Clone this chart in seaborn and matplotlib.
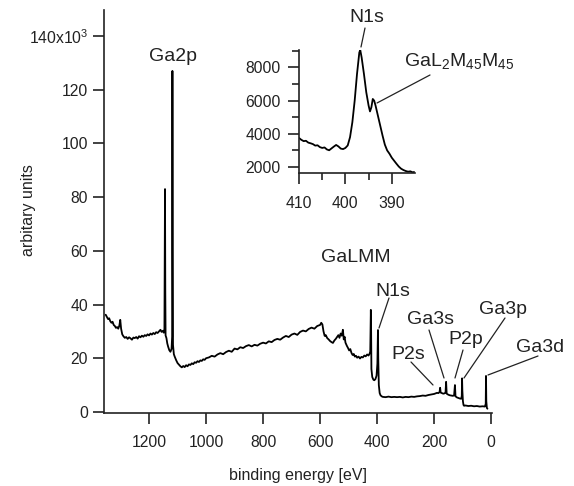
import matplotlib
matplotlib.use("Agg")
import matplotlib.pyplot as plt
from matplotlib.lines import Line2D
import seaborn as sns

# ---------------- data ----------------
# survey spectrum: binding energy [eV] and intensity [10^3 counts]
energy_ev = [
    1352, 1348, 1344, 1340, 1336, 1332, 1328, 1324, 1320, 1316, 1312, 1308, 1304, 1301, 1298, 1294,
    1290, 1285, 1280, 1275, 1270, 1265, 1260, 1255, 1250, 1245, 1240, 1235, 1230, 1225, 1220, 1215,
    1210, 1205, 1200, 1195, 1190, 1185, 1180, 1175, 1170, 1165, 1160, 1156, 1152, 1148, 1146, 1145,
    1144, 1143, 1142, 1139, 1136, 1133, 1129, 1125, 1121, 1119, 1118, 1117, 1116, 1113, 1110, 1105,
    1100, 1095, 1090, 1085, 1080, 1075, 1070, 1065, 1060, 1055, 1050, 1045, 1040, 1035, 1030, 1025,
    1020, 1015, 1010, 1005, 1000, 990, 980, 970, 960, 950, 940, 930, 920, 910, 900, 890,
    880, 870, 860, 850, 840, 830, 820, 810, 800, 790, 780, 770, 760, 750, 740, 730,
    720, 710, 700, 690, 680, 670, 660, 650, 640, 630, 620, 610, 600, 596, 592, 588,
    584, 580, 575, 570, 565, 560, 555, 550, 545, 540, 536, 532, 528, 524, 520, 517,
    514, 511, 506, 502, 498, 494, 490, 486, 482, 478, 474, 470, 465, 460, 455, 450,
    445, 440, 435, 430, 426, 424, 422, 421, 420, 417, 413, 410, 406, 402, 399, 397,
    396, 394, 391, 388, 384, 380, 370, 360, 350, 340, 330, 320, 310, 300, 290, 280,
    270, 260, 250, 240, 230, 220, 210, 200, 195, 190, 185, 181, 179, 177, 172, 168,
    164, 160, 158, 156, 150, 145, 140, 135, 130, 127, 125, 120, 115, 110, 105, 103,
    102, 101, 99, 97, 95, 90, 80, 70, 60, 50, 40, 30, 22, 19, 18, 17,
    15, 13,
]
intensity_k = [
    36.2, 35.4, 34.6, 34.9, 33.8, 33.2, 33.6, 32.4, 32.0, 31.3, 31.6, 31.0, 32.2, 34.3, 31.0, 28.9,
    28.2, 27.6, 27.9, 27.2, 27.8, 27.4, 26.9, 27.7, 27.5, 27.9, 27.3, 28.2, 27.8, 28.4, 28.0, 28.6,
    28.3, 28.9, 28.5, 29.2, 28.8, 29.4, 29.0, 29.7, 29.4, 30.0, 30.6, 29.8, 30.2, 29.5, 31.0, 60.0,
    83.0, 45.0, 28.5, 27.5, 25.5, 24.3, 23.0, 22.4, 23.5, 28.0, 127.0, 60.0, 25.0, 21.5, 20.6, 19.3,
    18.2, 17.6, 17.0, 16.6, 17.1, 16.7, 17.4, 17.0, 17.7, 17.5, 18.1, 17.8, 18.5, 18.3, 18.9, 18.6,
    19.2, 19.0, 19.6, 19.4, 20.0, 20.3, 20.9, 20.6, 21.4, 21.9, 21.5, 22.3, 22.8, 22.4, 23.6, 23.3,
    24.1, 23.8, 24.5, 24.9, 24.4, 25.0, 24.7, 25.4, 25.8, 25.5, 26.3, 26.0, 26.8, 27.2, 26.9, 27.7,
    28.3, 27.9, 28.8, 29.2, 28.7, 29.8, 30.3, 30.0, 30.9, 31.4, 31.0, 32.0, 32.4, 33.2, 32.6, 30.0,
    28.3, 28.6, 27.5, 27.0, 26.4, 26.0, 25.7, 26.6, 27.2, 28.0, 28.6, 27.6, 29.2, 28.4, 30.6, 27.0,
    28.0, 25.8, 24.6, 23.8, 22.9, 23.4, 22.0, 21.2, 21.6, 20.6, 20.9, 20.2, 20.6, 19.9, 20.5, 20.3,
    21.0, 20.7, 21.4, 21.0, 21.8, 22.5, 38.0, 30.0, 16.0, 13.0, 12.0, 11.8, 12.2, 13.5, 18.0, 30.5,
    20.0, 10.0, 7.0, 6.2, 5.8, 5.6, 5.5, 5.7, 5.5, 5.6, 5.5, 5.6, 5.4, 5.6, 5.5, 5.7,
    5.6, 5.8, 5.9, 6.1, 6.0, 6.3, 6.5, 6.7, 6.9, 7.1, 7.0, 7.4, 9.0, 7.2, 7.0, 6.8,
    6.9, 7.2, 11.2, 6.8, 6.4, 6.2, 6.1, 6.0, 6.1, 10.0, 5.8, 5.4, 5.2, 5.0, 4.9, 6.0,
    12.5, 8.0, 4.0, 2.6, 2.3, 2.4, 2.2, 2.3, 2.1, 2.2, 2.0, 2.1, 2.0, 3.0, 13.4, 4.0,
    1.5, 1.2,
]

# inset: high-resolution N1s region, binding energy [eV] and counts
inset_energy_ev = [
    410.0, 409.5, 409.0, 408.5, 408.0, 407.5, 407.0, 406.5, 406.0, 405.5, 405.0, 404.5, 404.0,
    403.5, 403.0, 402.5, 402.0, 401.5, 401.0, 400.5, 400.0, 399.5, 399.0, 398.5, 398.0, 397.5,
    397.0, 396.8, 396.5, 396.0, 395.5, 395.0, 394.7, 394.4, 394.1, 393.8, 393.5, 393.0, 392.5,
    392.0, 391.5, 391.0, 390.5, 390.0, 389.5, 389.0, 388.5, 388.0, 387.5, 387.0, 386.5, 386.0,
    385.5, 385.2,
]
inset_counts = [
    3750, 3640, 3560, 3580, 3470, 3430, 3380, 3290, 3310, 3200, 3150, 3180, 3060,
    3010, 3120, 3230, 3330, 3240, 3110, 3080, 3150, 3300, 3800, 4700, 6000, 7600,
    8900, 9050, 8600, 7600, 6500, 5700, 5350, 5600, 6100, 6000, 5700, 5100, 4500,
    3900, 3350, 3000, 2800, 2560, 2380, 2200, 2030, 1900, 1820, 1760, 1720, 1740,
    1680, 1700,
]

main_xticks = [1200, 1000, 800, 600, 400, 200, 0]
main_yticks = [0, 20, 40, 60, 80, 100, 120, 140]
main_ytick_labels = ["0", "20", "40", "60", "80", "100", "120", "140x10$^3$"]
inset_xticks = [410, 400, 390]
inset_xminor = [405, 395]
inset_yticks = [2000, 4000, 6000, 8000]
inset_yminor = [3000, 5000, 7000, 9000]

x_label = "binding energy [eV]"
y_label = "arbitary units"
peak_labels = ["Ga2p", "GaLMM", "N1s", "P2s", "Ga3s", "P2p", "Ga3p", "Ga3d"]
inset_labels = ["N1s", "GaL$_2$M$_{45}$M$_{45}$"]

# ---------------- style ----------------
sns.set_theme(style="ticks")
plt.rcParams["font.family"] = ["Liberation Sans", "DejaVu Sans"]
plt.rcParams["mathtext.fontset"] = "custom"
plt.rcParams["mathtext.rm"] = "Liberation Sans"
plt.rcParams["mathtext.it"] = "Liberation Sans:italic"
plt.rcParams["mathtext.bf"] = "Liberation Sans:bold"

W, H = 574, 486
fig = plt.figure(figsize=(W / 100, H / 100), dpi=100)
fig.patch.set_facecolor("white")


def rect(l, t, r, b):
    return [l / W, 1 - b / H, (r - l) / W, (b - t) / H]


def style_axes(ax, xpad, ypad):
    for s in ["top", "right"]:
        ax.spines[s].set_visible(False)
    for s in ["left", "bottom"]:
        ax.spines[s].set_color("#222222")
        ax.spines[s].set_linewidth(1.2)
    ax.tick_params(axis="both", which="major", direction="out", length=8, width=1.2,
                   color="#222222", labelsize=11.3, labelcolor="#222222")
    ax.tick_params(axis="both", which="minor", direction="out", length=5, width=1.2,
                   color="#222222")
    ax.tick_params(axis="x", which="major", pad=xpad)
    ax.tick_params(axis="y", which="major", pad=ypad)
    ax.set_facecolor("none")
    ax.grid(False)


# ---------------- main survey ----------------
ax = fig.add_axes(rect(104, 10, 492, 413))
sns.lineplot(x=energy_ev, y=intensity_k, ax=ax, color="black", linewidth=1.3,
             estimator=None, sort=False)
ax.set_xlim(1358, -3)
ax.set_ylim(-0.4, 149.7)
ax.set_xticks(main_xticks)
ax.set_xticklabels([str(v) for v in main_xticks])
ax.set_yticks(main_yticks)
ax.set_yticklabels(main_ytick_labels)
style_axes(ax, xpad=8, ypad=3.5)
ax.set_xlabel("")
ax.set_ylabel("")

fig.text(298 / W, 1 - 475 / H, x_label, ha="center", va="center", fontsize=11.5, color="#222222")
fig.text(28 / W, 1 - 210 / H, y_label, ha="center", va="center", rotation=90,
         fontsize=11.5, color="#222222")

# peak labels (x centre, baseline, in pixels) and leader lines
label_pos = {
    "Ga2p": (173, 61), "GaLMM": (356, 262), "N1s": (393, 296), "P2s": (408, 359),
    "Ga3s": (430, 324), "P2p": (466, 344), "Ga3p": (503, 314), "Ga3d": (540, 352),
}
leaders = {
    "N1s": ((389, 298), (379, 328)), "P2s": ((411, 362), (433, 385)),
    "Ga3s": ((429, 330), (444, 378)), "P2p": ((463, 350), (455, 378)),
    "Ga3p": ((505, 318), (464, 378)), "Ga3d": ((538, 356), (488, 375)),
}


def add_line(p0, p1):
    fig.add_artist(Line2D([p0[0] / W, p1[0] / W], [1 - p0[1] / H, 1 - p1[1] / H],
                          transform=fig.transFigure, color="#222222", linewidth=0.9))


for name in peak_labels:
    x, yb = label_pos[name]
    fig.text(x / W, 1 - yb / H, name, ha="center", va="baseline", fontsize=14, color="#222222")
    if name in leaders:
        add_line(*leaders[name])

# ---------------- inset ----------------
axi = fig.add_axes(rect(299, 50, 415, 173))
sns.lineplot(x=inset_energy_ev, y=inset_counts, ax=axi, color="black", linewidth=1.3,
             estimator=None, sort=False)
axi.set_xlim(410, 385)
axi.set_ylim(1640, 9050)
axi.set_xticks(inset_xticks)
axi.set_xticks(inset_xminor, minor=True)
axi.set_yticks(inset_yticks)
axi.set_yticks(inset_yminor, minor=True)
style_axes(axi, xpad=8.5, ypad=5)
axi.set_xlabel("")
axi.set_ylabel("")

fig.text(367 / W, 1 - 22 / H, inset_labels[0], ha="center", va="baseline", fontsize=14, color="#222222")
add_line((365, 28), (361, 47))
fig.text(404 / W, 1 - 66 / H, inset_labels[1], ha="left", va="baseline", fontsize=14, color="#222222")
add_line((430, 75), (377, 103))

fig.savefig("out.png", dpi=100, facecolor="white")
